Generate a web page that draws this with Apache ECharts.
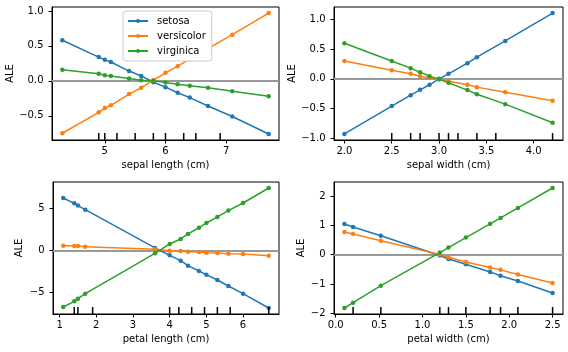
<!DOCTYPE html>
<html>
<head>
    <meta charset="utf-8">
    <script src="https://cdn.jsdelivr.net/npm/echarts@6/dist/echarts.min.js"></script>
</head>
<body style="margin:0">
    <div id="main" style="width: 568px;height:352px;"></div>
    <script type="text/javascript">
        // ALE values
        var names = ['setosa', 'versicolor', 'virginica'];
        var colors = ['#1f77b4', '#ff7f0e', '#2ca02c'];

        var slX = [4.3, 4.9, 5.0, 5.1, 5.4, 5.6, 5.8, 6.0, 6.2, 6.4, 6.7, 7.1, 7.7];
        var slSetosa = [0.58, 0.34, 0.30, 0.27, 0.14, 0.07, -0.02, -0.09, -0.17, -0.24, -0.36, -0.51, -0.76];
        var slVersicolor = [-0.75, -0.45, -0.39, -0.35, -0.19, -0.10, 0.01, 0.115, 0.21, 0.31, 0.46, 0.66, 0.97];
        var slVirginica = [0.16, 0.10, 0.08, 0.07, 0.035, 0.01, 0.0, -0.025, -0.05, -0.07, -0.10, -0.15, -0.22];
        var slRug = [4.9, 5.0, 5.2, 5.5, 5.8, 6.0, 6.3, 6.5, 6.9];

        var swX = [2.0, 2.5, 2.7, 2.8, 2.9, 3.0, 3.1, 3.3, 3.4, 3.7, 4.2];
        var swSetosa = [-0.93, -0.46, -0.275, -0.185, -0.10, 0.0, 0.085, 0.265, 0.365, 0.64, 1.11];
        var swVersicolor = [0.30, 0.146, 0.085, 0.045, 0.017, -0.005, -0.04, -0.10, -0.14, -0.225, -0.37];
        var swVirginica = [0.60, 0.30, 0.18, 0.11, 0.045, -0.005, -0.067, -0.19, -0.26, -0.427, -0.74];
        var swRug = [2.5, 2.7, 2.8, 3.0, 3.1, 3.2, 3.4, 3.6, 4.2];

        var plX = [1.1, 1.4, 1.5, 1.7, 3.6, 4.0, 4.3, 4.5, 4.8, 5.0, 5.3, 5.6, 6.0, 6.7];
        var plSetosa = [6.18, 5.55, 5.28, 4.8, 0.28, -0.59, -1.22, -1.81, -2.44, -2.87, -3.5, -4.21, -5.12, -6.81];
        var plVersicolor = [0.55, 0.51, 0.51, 0.43, 0.12, -0.04, -0.08, -0.16, -0.2, -0.28, -0.31, -0.39, -0.43, -0.63];
        var plVirginica = [-6.69, -6.02, -5.71, -5.12, -0.35, 0.75, 1.34, 1.93, 2.68, 3.23, 3.94, 4.69, 5.59, 7.36];
        var plRug = [1.4, 1.5, 1.9, 4.0, 4.25, 4.6, 4.95, 5.3, 5.65, 6.7];

        var pwX = [0.1, 0.2, 0.52, 1.2, 1.3, 1.5, 1.78, 1.9, 2.1, 2.5];
        var pwSetosa = [1.045, 0.94, 0.64, -0.03, -0.15, -0.33, -0.59, -0.72, -0.90, -1.31];
        var pwVersicolor = [0.77, 0.70, 0.47, 0.0, -0.09, -0.25, -0.44, -0.52, -0.68, -0.97];
        var pwVirginica = [-1.82, -1.64, -1.06, 0.07, 0.24, 0.58, 1.05, 1.25, 1.59, 2.27];
        var pwRug = [0.2, 0.52, 1.2, 1.3, 1.5, 1.78, 1.9, 2.1, 2.5];

        var panels = [
            { label: 'sepal length (cm)', x: slX, ys: [slSetosa, slVersicolor, slVirginica], rug: slRug,
              xTicks: [5, 6, 7], xDec: 0, yTicks: [-0.5, 0, 0.5, 1.0], yDec: 1, yGap: 35 },
            { label: 'sepal width (cm)', x: swX, ys: [swSetosa, swVersicolor, swVirginica], rug: swRug,
              xTicks: [2.0, 2.5, 3.0, 3.5, 4.0], xDec: 1, yTicks: [-1.0, -0.5, 0, 0.5, 1.0], yDec: 1, yGap: 36 },
            { label: 'petal length (cm)', x: plX, ys: [plSetosa, plVersicolor, plVirginica], rug: plRug,
              xTicks: [1, 2, 3, 4, 5, 6], xDec: 0, yTicks: [-5, 0, 5], yDec: 0, yGap: 29 },
            { label: 'petal width (cm)', x: pwX, ys: [pwSetosa, pwVersicolor, pwVirginica], rug: pwRug,
              xTicks: [0.0, 0.5, 1.0, 1.5, 2.0, 2.5], xDec: 1, yTicks: [-2, -1, 0, 1, 2], yDec: 0, yGap: 28 }
        ];
        var boxes = [
            { left: 52, top: 7, width: 227, height: 133 },
            { left: 334, top: 7, width: 229, height: 133 },
            { left: 53, top: 182, width: 226, height: 132 },
            { left: 334, top: 182, width: 229, height: 132 }
        ];

        var font = 'DejaVu Sans';
        function fmt(d) {
            return function (v) {
                var s = Math.abs(v).toFixed(d);
                return v < -1e-9 ? '\u2212' + s : s;
            };
        }
        // matplotlib style 5% margins
        function pad(arr) {
            var lo = Math.min.apply(null, arr), hi = Math.max.apply(null, arr);
            var m = (hi - lo) * 0.05;
            return [lo - m, hi + m];
        }

        var grids = [], xAxes = [], yAxes = [], series = [];
        panels.forEach(function (p, i) {
            var xr = pad(p.x);
            var yr = pad([].concat(p.ys[0], p.ys[1], p.ys[2]));
            grids.push({ left: boxes[i].left, top: boxes[i].top, width: boxes[i].width, height: boxes[i].height,
                show: true, borderColor: '#000', borderWidth: 1, backgroundColor: 'transparent' });
            xAxes.push({
                type: 'value', gridIndex: i, min: xr[0], max: xr[1],
                name: p.label, nameLocation: 'middle', nameGap: 20,
                nameTextStyle: { fontFamily: font, fontSize: 10, color: '#000' },
                axisLine: { show: true, onZero: false, lineStyle: { color: '#000', width: 1 } },
                axisTick: { show: true, length: 3.5, customValues: p.xTicks, lineStyle: { color: '#000' } },
                axisLabel: { customValues: p.xTicks, formatter: fmt(p.xDec), margin: 6.5,
                    fontFamily: font, fontSize: 10, color: '#000' },
                splitLine: { show: false }
            });
            yAxes.push({
                type: 'value', gridIndex: i, min: yr[0], max: yr[1],
                name: 'ALE', nameLocation: 'middle', nameGap: p.yGap, nameRotate: 90,
                nameTextStyle: { fontFamily: font, fontSize: 10, color: '#000' },
                axisLine: { show: true, onZero: false, lineStyle: { color: '#000', width: 1 } },
                axisTick: { show: true, length: 3.5, customValues: p.yTicks, lineStyle: { color: '#000' } },
                axisLabel: { customValues: p.yTicks, formatter: fmt(p.yDec), margin: 8.5,
                    fontFamily: font, fontSize: 10, color: '#000' },
                splitLine: { show: false }
            });
            p.ys.forEach(function (vals, k) {
                var s = {
                    name: names[k], type: 'line', xAxisIndex: i, yAxisIndex: i,
                    data: p.x.map(function (x, j) { return [x, vals[j]]; }),
                    color: colors[k], symbol: 'circle', symbolSize: 4.5, showSymbol: true,
                    lineStyle: { width: 1.5 }, z: 3
                };
                if (k === 0) {
                    s.markLine = {
                        silent: true, symbol: 'none', label: { show: false },
                        lineStyle: { color: '#999', width: 2, type: 'solid' },
                        data: [{ yAxis: 0 }], z: 2
                    };
                }
                series.push(s);
            });
            // rug of feature values at the bottom of each panel
            series.push({
                type: 'custom', xAxisIndex: i, yAxisIndex: i, silent: true, z: 4,
                data: p.rug.map(function (x) { return [x]; }),
                renderItem: function (params, api) {
                    var c = api.coord([api.value(0), yr[0]]);
                    return { type: 'line', shape: { x1: c[0], y1: c[1], x2: c[0], y2: c[1] - 7 },
                        style: { stroke: '#000', lineWidth: 1.5 } };
                }
            });
        });

        var myChart = echarts.init(document.getElementById('main'));
        myChart.setOption({
            animation: false,
            backgroundColor: '#fff',
            legend: {
                data: names, orient: 'vertical', left: 123, top: 11,
                itemWidth: 20, itemHeight: 5, itemGap: 5,
                padding: [5, 6, 5, 4],
                backgroundColor: '#fff', borderColor: '#ccc', borderWidth: 1, borderRadius: 3,
                textStyle: { fontFamily: font, fontSize: 10, color: '#000', padding: [0, 0, 0, 4] }
            },
            grid: grids,
            xAxis: xAxes,
            yAxis: yAxes,
            series: series
        });
    </script>
</body>
</html>
